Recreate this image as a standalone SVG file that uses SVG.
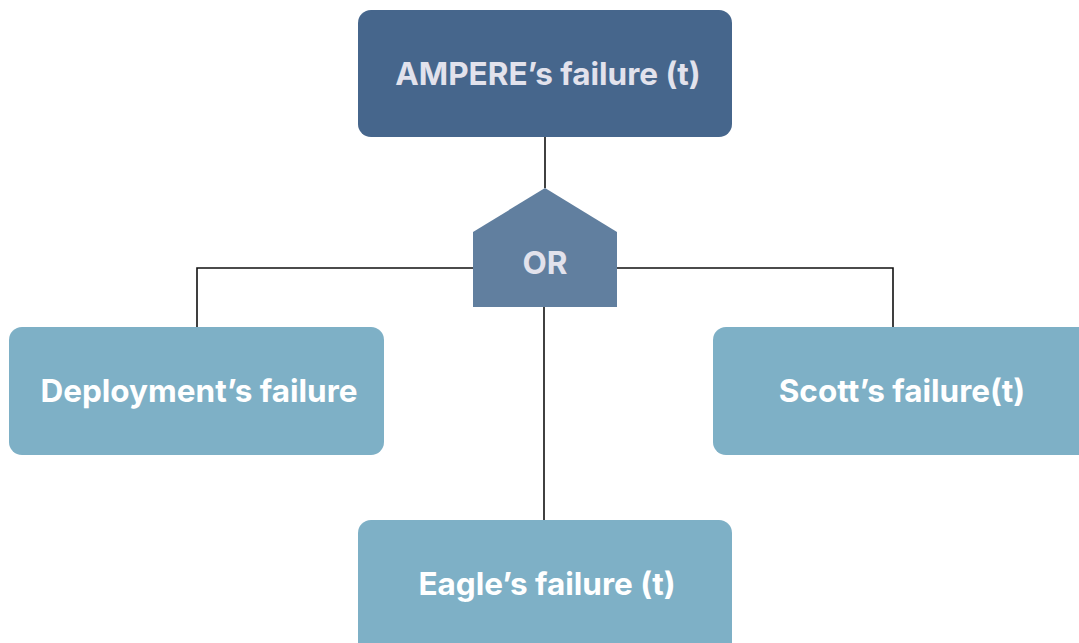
<svg xmlns="http://www.w3.org/2000/svg" width="1079" height="643" viewBox="0 0 1079 643">
  <style>
    .top { fill: #46668c; }
    .gate { fill: #617f9f; }
    .leaf { fill: #7eb0c6; }
    .label { font-family: Inter, "Noto Sans", sans-serif; font-weight: 700; font-size: 31.5px; text-anchor: middle; }
    .dark { fill: #e2e2ec; }
    .light { fill: #ffffff; }
    .wire { fill: none; stroke: #111111; stroke-width: 1.6; }
  </style>
  <rect width="1079" height="643" fill="#ffffff"/>
  <g id="connectors">
    <path class="wire" d="M545 137 V188"/>
    <path class="wire" d="M473 268 H197 V327"/>
    <path class="wire" d="M617 268 H893 V327"/>
    <path class="wire" d="M544 307 V520"/>
  </g>
  <g id="ampere">
    <rect class="top" x="358" y="10" width="374" height="127" rx="13"/>
    <text class="label dark" x="548" y="85">AMPERE’s failure (t)</text>
  </g>
  <g id="or-gate">
    <polygon class="gate" points="545,188 617,232 617,307 473,307 473,232"/>
    <text class="label dark" x="545" y="274">OR</text>
  </g>
  <g id="deployment">
    <rect class="leaf" x="9" y="327" width="375" height="128" rx="13"/>
    <text class="label light" x="199" y="402">Deployment’s failure</text>
  </g>
  <g id="scott">
    <rect class="leaf" x="713" y="327" width="390" height="128" rx="13"/>
    <text class="label light" x="902" y="402">Scott’s failure(t)</text>
  </g>
  <g id="eagle">
    <rect class="leaf" x="358" y="520" width="374" height="140" rx="13"/>
    <text class="label light" x="547" y="595">Eagle’s failure (t)</text>
  </g>
</svg>
